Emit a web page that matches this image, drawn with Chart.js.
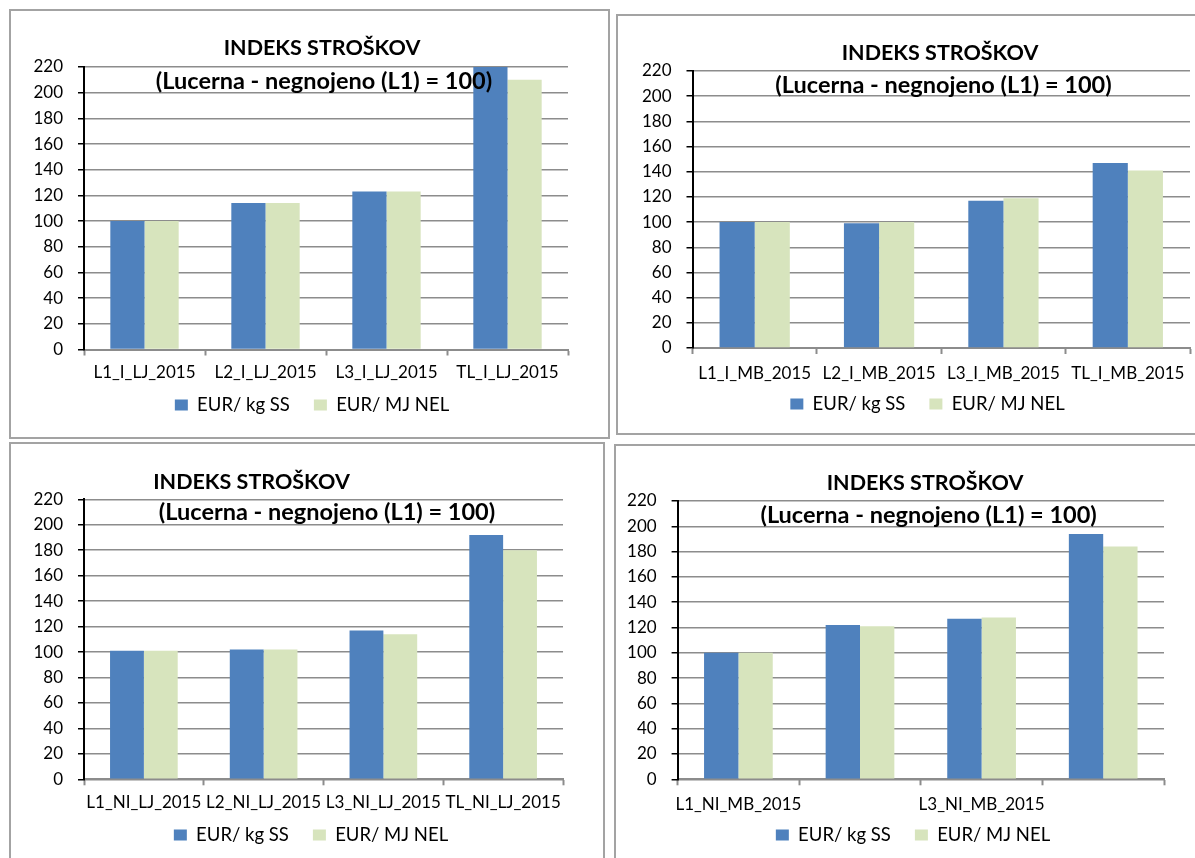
<!DOCTYPE html>
<html>
<head>
<meta charset="utf-8">
<title>Indeks stroškov</title>
<script src="https://cdn.jsdelivr.net/npm/chart.js@4/dist/chart.umd.min.js"></script>
<style>
  html, body { margin: 0; padding: 0; background: #fff; width: 1195px; height: 858px; overflow: hidden; position: relative; }
  .frame { position: absolute; box-sizing: border-box; border: 2px solid #a3a3a3; }
  canvas { position: absolute; }
</style>
</head>
<body>
<div class="frame" style="left:9px;top:9px;width:601px;height:430px"></div>
<div class="frame" style="left:616px;top:14px;width:640px;height:421px"></div>
<div class="frame" style="left:9px;top:442px;width:596px;height:440px"></div>
<div class="frame" style="left:614px;top:444px;width:640px;height:440px"></div>

<canvas id="chartILJ"  width="596" height="425" style="left:11px;top:11px"></canvas>
<canvas id="chartIMB"  width="617" height="419" style="left:619px;top:16px"></canvas>
<canvas id="chartNILJ" width="592" height="422" style="left:11px;top:444px"></canvas>
<canvas id="chartNIMB" width="594" height="420" style="left:616px;top:446px"></canvas>

<script>
// Series names and headings
const seriesNames = ['EUR/ kg SS', 'EUR/ MJ NEL'];
const headingMain = 'INDEKS STROŠKOV';
const headingSub = '(Lucerna - negnojeno (L1) = 100)';

// Value axis
const yMin = 0;
const yMax = 220;
const yStep = 20;

// Irrigated, Ljubljana
const catILJ = ['L1_I_LJ_2015', 'L2_I_LJ_2015', 'L3_I_LJ_2015', 'TL_I_LJ_2015'];
const kgILJ = [100, 114, 123, 220];
const mjILJ = [100, 114, 123, 210];

// Irrigated, Maribor
const catIMB = ['L1_I_MB_2015', 'L2_I_MB_2015', 'L3_I_MB_2015', 'TL_I_MB_2015'];
const kgIMB = [100, 99, 117, 147];
const mjIMB = [100, 100, 119, 141];

// Not irrigated, Ljubljana
const catNILJ = ['L1_NI_LJ_2015', 'L2_NI_LJ_2015', 'L3_NI_LJ_2015', 'TL_NI_LJ_2015'];
const kgNILJ = [101, 102, 117, 192];
const mjNILJ = [101, 102, 114, 180];

// Not irrigated, Maribor
const catNIMB = ['L1_NI_MB_2015', 'L2_NI_MB_2015', 'L3_NI_MB_2015', 'TL_NI_MB_2015'];
const kgNIMB = [100, 122, 127, 194];
const mjNIMB = [100, 121, 128, 184];

const BLUE = '#4f81bd';
const GREEN = '#d7e4bd';
const FONT = 'Lato, "Open Sans", sans-serif';
const LEGEND_FONT = 18.5;
const LEGEND_PAD = 24;

Chart.defaults.font.family = FONT;
Chart.defaults.color = '#000';

// Two-line heading drawn over the plot
const headingPlugin = {
  id: 'heading',
  afterDraw(chart, args, opts) {
    const ctx = chart.ctx;
    ctx.save();
    ctx.fillStyle = '#000';
    ctx.textAlign = 'center';
    ctx.textBaseline = 'middle';
    ctx.font = 'bold ' + opts.mainSize + 'px ' + FONT;
    ctx.fillText(headingMain, opts.mainX, opts.mainY);
    ctx.font = 'bold ' + opts.subSize + 'px ' + FONT;
    ctx.fillText(headingSub, opts.subX, opts.subY);
    ctx.restore();
  }
};

// Moves the legend box so its row is centred on a given point
const legendPlacer = {
  id: 'legendPlacer',
  afterLayout(chart, args, opts) {
    const lg = chart.legend;
    if (!lg) return;
    const halfW = (lg.right - lg.left) / 2;
    const h = lg.bottom - lg.top;
    const top = opts.midY - LEGEND_PAD - LEGEND_FONT / 2;
    lg.left = opts.centerX - halfW;
    lg.right = opts.centerX + halfW;
    lg.top = top;
    lg.bottom = top + h;
  }
};

function buildChart(id, labels, kg, mj, cfg) {
  return new Chart(document.getElementById(id), {
    type: 'bar',
    data: {
      labels: labels,
      datasets: [
        { label: seriesNames[0], data: kg, backgroundColor: BLUE, borderWidth: 0 },
        { label: seriesNames[1], data: mj, backgroundColor: GREEN, borderWidth: 0 }
      ]
    },
    options: {
      responsive: false,
      animation: false,
      events: [],
      categoryPercentage: 0.565,
      barPercentage: 1,
      layout: { padding: cfg.padding },
      plugins: {
        legend: {
          position: 'bottom',
          labels: { boxWidth: 13, boxHeight: 11, padding: LEGEND_PAD, font: { size: LEGEND_FONT }, color: '#000' }
        },
        tooltip: { enabled: false },
        heading: cfg.heading,
        legendPlacer: cfg.legend
      },
      scales: {
        x: {
          afterFit(scale) { scale.height = 34; },
          grid: { drawOnChartArea: false, drawTicks: true, tickLength: 6, tickColor: '#8c8c8c', tickWidth: 2 },
          border: { color: '#8c8c8c', width: 2 },
          ticks: {
            autoSkip: false, maxRotation: 0, minRotation: 0,
            padding: cfg.xPad,
            font: { size: 17, lineHeight: 1 }, color: '#000',
            callback(value, index) {
              if (cfg.everyOther && index % 2 === 1) return '';
              return this.getLabelForValue(value);
            }
          }
        },
        y: {
          min: yMin, max: yMax,
          afterFit(scale) { scale.width = cfg.yWidth; },
          grid: { color: '#8c8c8c', lineWidth: 1.5, tickLength: 6, tickColor: '#000', tickWidth: 1.5 },
          border: { color: '#000', width: 2 },
          ticks: { stepSize: yStep, padding: 15, font: { size: 17 }, color: '#000' }
        }
      }
    },
    plugins: [headingPlugin, legendPlacer]
  });
}

buildChart('chartILJ', catILJ, kgILJ, mjILJ, {
  padding: { left: 0, top: 56, right: 39, bottom: 0 },
  yWidth: 73, xPad: 9,
  heading: { mainSize: 21.5, subSize: 23.5, mainX: 311, mainY: 37, subX: 313, subY: 70 },
  legend: { centerX: 301, midY: 394 }
});

buildChart('chartIMB', catIMB, kgIMB, mjIMB, {
  padding: { left: 0, top: 55, right: 46, bottom: 0.5 },
  yWidth: 73.5, xPad: 11,
  heading: { mainSize: 21.5, subSize: 23.5, mainX: 321, mainY: 37, subX: 324.5, subY: 69 },
  legend: { centerX: 308.5, midY: 388 }
});

buildChart('chartNILJ', catNILJ, kgNILJ, mjNILJ, {
  padding: { left: 0, top: 55.3, right: 40, bottom: 0.2 },
  yWidth: 73, xPad: 9,
  heading: { mainSize: 21.5, subSize: 23.5, mainX: 240.5, mainY: 37.7, subX: 316, subY: 68.7 },
  legend: { centerX: 300, midY: 391 }
});

buildChart('chartNIMB', catNIMB, kgNIMB, mjNIMB, {
  padding: { left: 0, top: 55, right: 46, bottom: 0.2 },
  yWidth: 61.6, xPad: 11, everyOther: true,
  heading: { mainSize: 21.5, subSize: 23.5, mainX: 309, mainY: 37, subX: 312.6, subY: 69 },
  legend: { centerX: 297, midY: 389 }
});
</script>
</body>
</html>
